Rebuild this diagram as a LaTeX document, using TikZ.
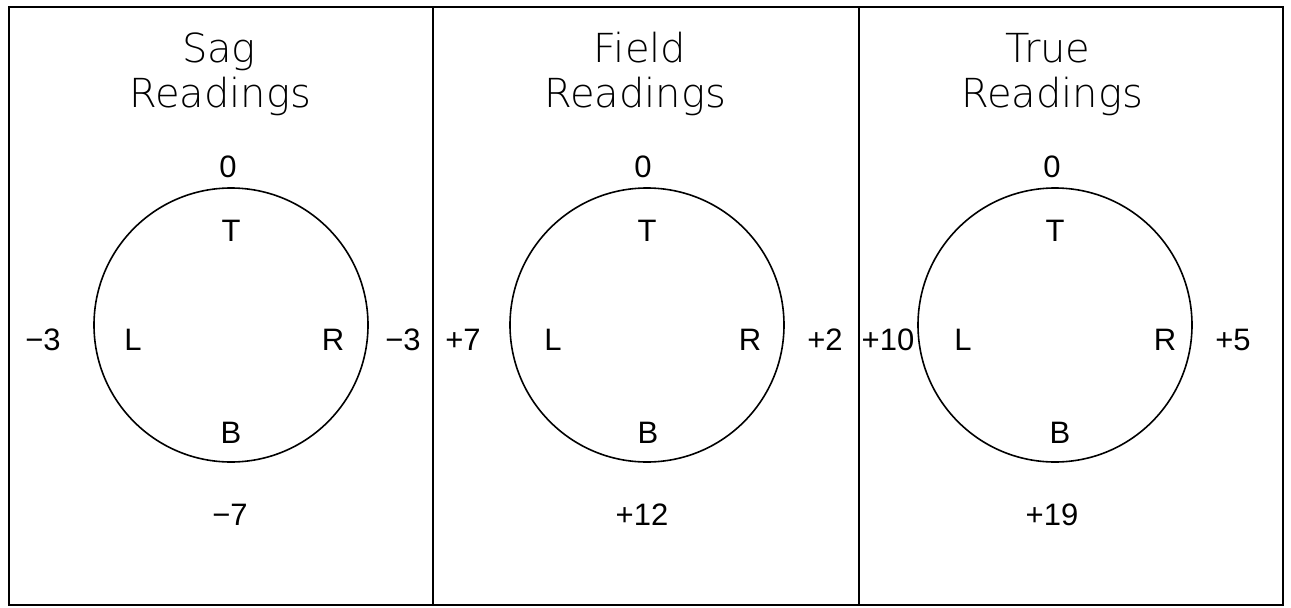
\documentclass[tikz,border=0pt]{standalone}
\usepackage{fontspec}
\setmainfont{Liberation Sans}
\newfontfamily\titlefont{DejaVu Sans ExtraLight}
\begin{document}
\begin{tikzpicture}[x=1pt,y=-1pt,
  lbl/.style={font=\fontsize{31}{31}\selectfont, anchor=base, inner sep=0pt},
  ttl/.style={font=\titlefont\fontsize{40}{40}\selectfont, anchor=base, inner sep=0pt},
  ring/.style={circle, draw, line width=1.6pt, minimum size=274pt, inner sep=0pt},
  frame/.style={line width=1.8pt}]
\useasboundingbox (0,0) rectangle (1291,608);
% frame and dividers
\coordinate (tl) at (9,7);
\coordinate (br) at (1283,605);
\coordinate (d1t) at (433,7);
\coordinate (d1b) at (433,605);
\coordinate (d2t) at (859,7);
\coordinate (d2b) at (859,605);
\draw[frame] (tl) rectangle (br);
\draw[frame] (d1t) -- (d1b);
\draw[frame] (d2t) -- (d2b);

% panel 1: Sag
\node[ttl] (t1a) at (219,62) {Sag};
\node[ttl] (t1b) at (220,107) {Readings};
\node[ring] (c1) at (231,325) {};
\node[lbl] (z1) at (228,177) {0};
\node[lbl] (T1) at (231,241) {T};
\node[lbl] (L1) at (133,350) {L};
\node[lbl] (R1) at (333,350) {R};
\node[lbl] (B1) at (231,443) {B};
\node[lbl] (l1) at (43,350) {−3};
\node[lbl] (r1) at (403,350) {−3};
\node[lbl] (b1) at (230,525) {−7};

% panel 2: Field
\node[ttl] (t2a) at (640,62) {Field};
\node[ttl] (t2b) at (635,107) {Readings};
\node[ring] (c2) at (647,325) {};
\node[lbl] (z2) at (643,177) {0};
\node[lbl] (T2) at (647,241) {T};
\node[lbl] (L2) at (553,350) {L};
\node[lbl] (R2) at (750,350) {R};
\node[lbl] (B2) at (648,443) {B};
\node[lbl] (l2) at (463,350) {+7};
\node[lbl] (r2) at (825,350) {+2};
\node[lbl] (b2) at (642,525) {+12};

% panel 3: True
\node[ttl] (t3a) at (1048,62) {True};
\node[ttl] (t3b) at (1052,107) {Readings};
\node[ring] (c3) at (1055,325) {};
\node[lbl] (z3) at (1052,177) {0};
\node[lbl] (T3) at (1055,241) {T};
\node[lbl] (L3) at (963,350) {L};
\node[lbl] (R3) at (1165,350) {R};
\node[lbl] (B3) at (1060,443) {B};
\node[lbl] (l3) at (888,350) {+10};
\node[lbl] (r3) at (1233,350) {+5};
\node[lbl] (b3) at (1052,525) {+19};
\end{tikzpicture}
\end{document}
